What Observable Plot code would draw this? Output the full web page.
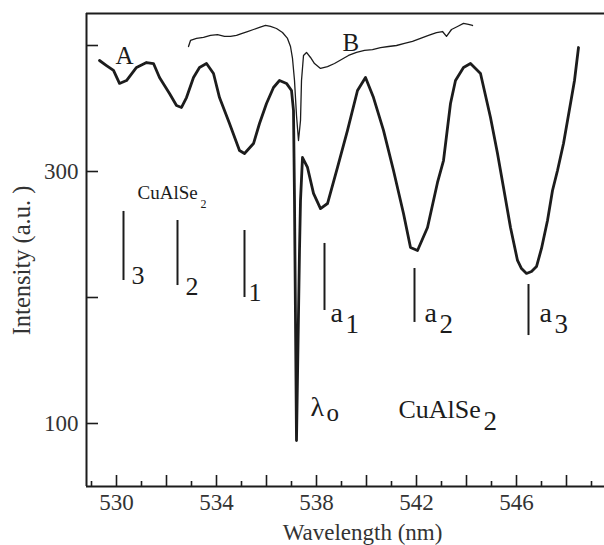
<!DOCTYPE html>
<html>
<head>
<meta charset="utf-8">
<script src="https://cdn.jsdelivr.net/npm/d3@7"></script>
<script src="https://cdn.jsdelivr.net/npm/@observablehq/plot@0.6"></script>
<style>
  html, body { margin: 0; padding: 0; background: #fff; }
  #chart svg { display: block; }
</style>
</head>
<body>
<div id="chart"></div>
<script>
// ---- Data (wavelength nm, intensity a.u.) ----
const curveA = [
  [529.32,388.1],[529.60,384.1],[529.88,380.2],[530.12,369.9],[530.40,372.2],[530.80,382.6],
  [531.20,386.5],[531.48,385.7],[531.72,374.6],[532.12,361.9],[532.40,352.4],[532.60,350.8],
  [532.80,358.7],[533.08,374.6],[533.32,382.6],[533.60,385.7],[533.88,377.8],[534.12,358.7],
  [534.52,338.1],[534.92,316.7],[535.12,314.3],[535.48,322.2],[535.72,338.1],[536.00,354.0],
  [536.28,366.7],[536.52,372.2],[536.80,369.9],[537.00,364.3],[537.08,348.4],[537.12,277.0],
  [537.20,86.5],[537.32,237.3],[537.36,277.0],[537.44,311.1],[537.64,303.2],[537.88,282.6],
  [538.16,270.6],[538.44,274.6],[538.84,303.2],[539.24,332.6],[539.64,364.3],[539.96,374.6],
  [540.28,358.7],[540.68,332.6],[541.08,300.8],[541.48,266.7],[541.76,239.7],[542.04,237.3],
  [542.44,255.6],[542.84,291.3],[543.08,308.7],[543.36,354.0],[543.56,372.2],[543.88,382.6],
  [544.16,385.7],[544.56,377.8],[544.96,342.9],[545.24,314.3],[545.48,287.3],[545.76,255.6],
  [546.04,229.4],[546.20,223.0],[546.40,219.1],[546.60,220.6],[546.80,224.6],[547.00,238.9],
  [547.24,261.1],[547.44,284.9],[547.64,300.8],[547.88,322.2],[548.16,354.0],[548.32,372.2],
  [548.48,398.4]
];
const curveB = [
  [532.88,399.2],[532.96,404.0],[533.20,405.6],[533.48,406.4],[533.76,408.0],[534.04,408.7],
  [534.32,407.2],[534.56,407.2],[534.80,408.0],[535.00,409.5],[535.24,411.1],[535.48,412.7],
  [535.72,414.3],[535.96,415.9],[536.16,415.1],[536.40,413.5],[536.64,410.3],[536.84,405.6],
  [536.96,399.2],[537.04,389.7],[537.12,372.2],[537.20,344.5],[537.28,324.6],[537.36,340.5],
  [537.40,372.2],[537.48,392.1],[537.60,394.5],[537.76,390.5],[537.92,385.7],[538.16,381.8],
  [538.44,383.3],[538.72,385.7],[539.00,388.9],[539.28,392.1],[539.60,394.5],[539.92,396.1],
  [540.24,396.8],[540.56,398.4],[540.88,399.2],[541.20,400.0],[541.52,401.6],[541.84,403.2],
  [542.16,405.6],[542.48,408.0],[542.80,410.3],[543.04,411.1],[543.20,407.2],[543.40,412.7],
  [543.64,415.1],[543.88,417.5],[544.08,416.7],[544.24,415.9]
];
// marker bars
const barWavelength = [530.28, 532.44, 535.12, 538.32, 541.92, 546.48];
const barTop        = [268.3, 261.1, 253.2, 242.9, 223.0, 210.3];
const barBottom     = [213.5, 209.5, 200.0, 189.7, 180.2, 169.8];
// bar labels
const digitLabels = ["3", "2", "1"];
const digitLabelX = [530.60, 532.76, 535.28];
const digitLabelY = [211.1, 201.6, 197.6];
const aLabels     = ["a", "a", "a"];
const aSubs       = ["1", "2", "3"];
const aLabelX     = [538.56, 542.32, 546.92];
const aLabelY     = [180.2, 180.2, 180.2];
// other annotations
const curveNames  = ["A", "B"];
const curveNameX  = [529.96, 539.04];
const curveNameY  = [385.7, 396.0];
// axes
const xDomain = [528.8, 549.52];
const yDomain = [50, 425.4];
const xMajorTicks = [530, 532, 534, 536, 538, 540, 542, 544, 546, 548];
const xMinorTicks = [529, 531, 533, 535, 537, 539, 541, 543, 545, 547, 549];
const xTickLabels = [530, 534, 538, 542, 546];
const yTicks = [100, 200, 300, 400];
const yTickLabels = [100, 300];
const xTitle = "Wavelength (nm)";
const yTitle = "Intensity (a.u. )";

const W = 604, H = 545;
const mL = 86, mR = 0, mT = 13, mB = 59;
const frameW = W - mL - mR, frameH = H - mT - mB;
const ink = "#1c1c1c";
const serif = "'Liberation Serif', 'Times New Roman', serif";

const A = curveA.map(([x, y]) => ({x, y}));
const B = curveB.map(([x, y]) => ({x, y}));
const bars = barWavelength.map((x, i) => ({x, y1: barTop[i], y2: barBottom[i]}));
const digits = digitLabels.map((t, i) => ({t, x: digitLabelX[i], y: digitLabelY[i]}));
const aLab = aLabels.map((t, i) => ({t, s: aSubs[i], x: aLabelX[i], y: aLabelY[i]}));
const names = curveNames.map((t, i) => ({t, x: curveNameX[i], y: curveNameY[i]}));

const txt = (data, opts) => Plot.text(data, {textAnchor: "start", lineAnchor: "bottom", fill: ink, ...opts});

const chart = Plot.plot({
  width: W, height: H,
  marginLeft: mL, marginRight: mR, marginTop: mT, marginBottom: mB,
  style: {fontFamily: serif, fontSize: "23px", background: "#fff", color: ink, overflow: "visible"},
  x: {domain: xDomain},
  y: {domain: yDomain},
  marks: [
    // frame (top, left, bottom)
    Plot.ruleY([yDomain[1]], {stroke: ink, strokeWidth: 2}),
    Plot.ruleY([yDomain[0]], {stroke: ink, strokeWidth: 2}),
    Plot.ruleX([xDomain[0]], {stroke: ink, strokeWidth: 2}),
    // inward ticks
    Plot.tickX(xMajorTicks, {x: d => d, insetTop: frameH - 11, stroke: ink, strokeWidth: 1.6}),
    Plot.tickX(xMinorTicks, {x: d => d, insetTop: frameH - 5, stroke: ink, strokeWidth: 1.6}),
    Plot.tickY(yTicks, {y: d => d, insetRight: frameW - 12, stroke: ink, strokeWidth: 1.6}),
    Plot.axisX({ticks: xTickLabels, tickSize: 0, tickPadding: 7, label: null, fontSize: 23, fill: "#333"}),
    Plot.axisY({ticks: yTickLabels, tickSize: 0, tickPadding: 8, label: null, fontSize: 23, fill: "#333"}),
    // axis titles (placed in screen space below / left of the frame)
    Plot.text([xTitle], {frameAnchor: "bottom", dx: 17, dy: 53, lineAnchor: "bottom", fontSize: 23, fill: "#333"}),
    Plot.text([yTitle], {x: () => xDomain[0], y: () => 229.4, dx: -64, rotate: -90, fontSize: 24.5, fill: "#333"}),
    // curves
    Plot.line(B, {x: "x", y: "y", stroke: ink, strokeWidth: 1.3}),
    Plot.line(A, {x: "x", y: "y", stroke: ink, strokeWidth: 2.8}),
    // marker bars
    Plot.ruleX(bars, {x: "x", y1: "y1", y2: "y2", stroke: ink, strokeWidth: 2}),
    // bar labels
    txt(digits, {x: "x", y: "y", text: "t", fontSize: 26}),
    txt(aLab, {x: "x", y: "y", text: "t", fontSize: 28}),
    txt(aLab, {x: "x", y: "y", text: "s", fontSize: 27, dx: 15, dy: 11}),
    // curve names
    txt(names, {x: "x", y: "y", text: "t", fontSize: 25}),
    // small CuAlSe2
    txt(["CuAlSe"], {x: () => 530.84, y: () => 277.8, fontSize: 19}),
    txt(["2"], {x: () => 530.84, y: () => 277.8, fontSize: 12, dx: 63, dy: 9}),
    // large CuAlSe2
    txt(["CuAlSe"], {x: () => 541.28, y: () => 104.0, fontSize: 26}),
    txt(["2"], {x: () => 541.28, y: () => 104.0, fontSize: 27, dx: 85, dy: 12}),
    // lambda_o
    txt(["λ"], {x: () => 537.76, y: () => 106.3, fontSize: 28}),
    txt(["o"], {x: () => 537.76, y: () => 106.3, fontSize: 25, dx: 16, dy: 5})
  ]
});
document.getElementById("chart").appendChild(chart);
</script>
</body>
</html>
